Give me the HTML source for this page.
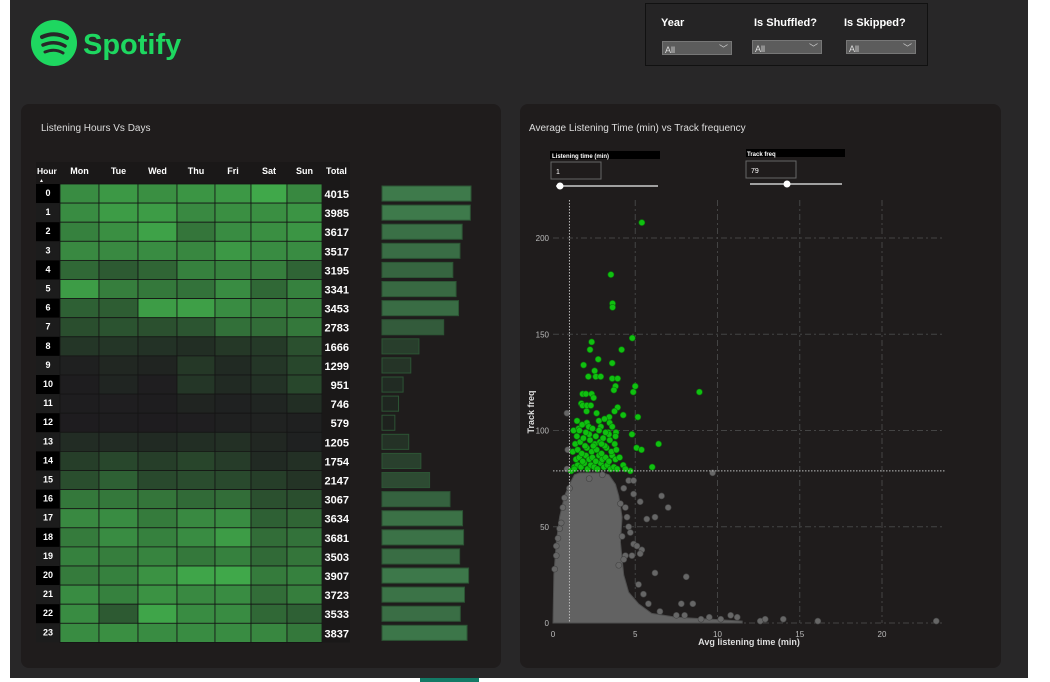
<!DOCTYPE html>
<html><head><meta charset="utf-8">
<style>
body{margin:0;width:1050px;height:682px;background:#fff;font-family:"Liberation Sans",sans-serif;overflow:hidden;position:relative}
#page{position:absolute;left:10px;top:0;width:1018px;height:678px;background:#282728}
.panel{position:absolute;background:#1f1c1c;border-radius:8px}
.lbl{position:absolute;color:#fff;font-size:11px;font-weight:bold}
.dd{position:absolute;width:70px;height:14px;background:#5c5c5c;border:1px solid #777;color:#ddd;font-size:9px;line-height:16px;padding-left:2px;box-sizing:border-box}
.dd:after{content:"﹀";position:absolute;right:3px;top:-1px;font-size:9px;color:#ccc}
</style></head><body>
<div id="page">
  <svg style="position:absolute;left:21px;top:20px" width="160" height="48">
    <circle cx="23" cy="23" r="23" fill="#1ed760"/>
    <path d="M11 17 Q24 11 36 18" stroke="#282728" stroke-width="4" fill="none" stroke-linecap="round"/>
    <path d="M12 25 Q24 20 34 26" stroke="#282728" stroke-width="3.5" fill="none" stroke-linecap="round"/>
    <path d="M14 32 Q24 28 32 33" stroke="#282728" stroke-width="3" fill="none" stroke-linecap="round"/>
    <text x="52" y="34" fill="#1ed760" font-size="29" font-weight="bold" font-family="Liberation Sans">Spotify</text>
  </svg>
  <div style="position:absolute;left:635px;top:3px;width:281px;height:61px;border:1px solid #111;background:#252425">
    <div class="lbl" style="left:15px;top:13px">Year</div>
    <div class="dd" style="left:16px;top:37px">All</div>
    <div class="lbl" style="left:108px;top:13px">Is Shuffled?</div>
    <div class="dd" style="left:106px;top:36px">All</div>
    <div class="lbl" style="left:198px;top:13px">Is Skipped?</div>
    <div class="dd" style="left:200px;top:36px">All</div>
  </div>
  <div class="panel" style="left:11px;top:104px;width:480px;height:564px">
    <svg id="hm" width="480" height="564"></svg>
  </div>
  <div class="panel" style="left:510px;top:104px;width:481px;height:564px">
    <svg id="sc" width="481" height="564"></svg>
  </div>
</div>
<div style="position:absolute;left:420px;top:678px;width:59px;height:4px;background:#137a66"></div>
<script>
const NS="http://www.w3.org/2000/svg";
function mk(p,t,a){const e=document.createElementNS(NS,t);for(const k in a)e.setAttribute(k,a[k]);p.appendChild(e);return e;}
// ---- heatmap data ----
const days=["Mon","Tue","Wed","Thu","Fri","Sat","Sun"];
const hours=[0,1,2,3,4,5,6,7,8,9,10,11,12,13,14,15,16,17,18,19,20,21,22,23];
const totals=[4015,3985,3617,3517,3195,3341,3453,2783,1666,1299,951,746,579,1205,1754,2147,3067,3634,3681,3503,3907,3723,3533,3837];
const cells=[
[560,600,570,590,600,650,545],[560,610,610,550,570,570,585],[520,570,630,480,560,570,590],[550,550,560,540,600,560,560],
[430,380,420,520,520,510,415],[610,510,490,470,560,430,520],[400,390,610,620,560,510,510],[330,350,340,360,460,450,490],
[220,220,200,180,230,240,340],[90,140,120,230,160,220,300],[70,130,80,220,160,200,300],[60,80,70,120,100,130,180],
[50,60,50,80,90,110,90],[170,170,160,180,190,140,100],[260,300,260,290,250,160,190],[330,400,310,320,310,260,210],
[490,490,480,440,450,340,330],[550,560,500,550,560,400,420],[500,560,520,560,610,450,470],[520,510,530,490,520,440,480],
[500,520,580,640,650,500,520],[560,520,580,550,560,450,510],[560,380,640,560,560,430,400],[560,570,560,560,560,540,490]];
const hm=document.getElementById("hm");
function t(p,x,y,s,o){const e=mk(p,"text",Object.assign({x:x,y:y,fill:"#fff","font-size":9,"font-weight":"bold","font-family":"Liberation Sans"},o||{}));e.textContent=s;return e;}
const tt=t(hm,20,27,"Listening Hours Vs Days",{"font-size":10,"font-weight":"normal",fill:"#ddd"});


const colX=[39,78,117,156,194,230,266,301];
const rowY0=80, rowH=19.1;
mk(hm,"rect",{x:15,y:58,width:314,height:22,fill:"#1a1818"});
t(hm,16,70,"Hour",{"font-size":8.5});
t(hm,18,78,"▲",{"font-size":5});
days.forEach((d,i)=>{const e=t(hm,(colX[i]+colX[i+1])/2,70,d,{"text-anchor":"middle"});

});
t(hm,305,70,"Total");
function col(v){const f=Math.max(0,Math.min(1,(v-50)/600));const a=[30,28,31],b=[64,168,74];
const g=Math.pow(f,1.35);
return "rgb("+a.map((c,i)=>Math.round(c+(b[i]-c)*g)).join(",")+")";}
const maxT=4015, barX=361, barW=89;
hours.forEach((h,r)=>{
  const y=rowY0+r*rowH;
  mk(hm,"rect",{x:15,y:y,width:24,height:rowH,fill:r%2?"#1c1c1c":"#000"});
  t(hm,27,y+12,String(h),{"text-anchor":"middle"});
  cells[r].forEach((v,c)=>{
    const e=mk(hm,"rect",{x:colX[c],y:y,width:colX[c+1]-colX[c],height:rowH,fill:col(v),stroke:"#141414","stroke-width":0.8});
    
    
  });
  mk(hm,"rect",{x:301,y:y,width:28,height:rowH,fill:"#1a1818"});
  t(hm,328,y+14,String(totals[r]),{"text-anchor":"end","font-size":11});
  const w=totals[r]/maxT*barW;
  const f=Math.max(0,(totals[r]-600)/3400);
  const b=mk(hm,"rect",{x:barX,y:y+2,width:w,height:rowH-4,fill:"rgb("+Math.round(30+32*f)+","+Math.round(34+88*f)+","+Math.round(30+45*f)+")",stroke:"#2c5434","stroke-width":1});
  
  
});
// ---- scatter data ----
const greenX=[5.4,3.52,3.62,3.62,4.82,2.35,2.25,4.17,2.75,1.86,3.6,2.53,2.15,2.6,2.9,3.6,3.93,5.0,3.8,3.7,4.88,8.9,1.8,2.0,2.35,2.47,1.72,1.8,2.06,2.3,3.93,3.74,2.04,2.65,4.27,5.16,3.42,1.46,2.06,2.79,3.13,3.44,1.25,1.56,1.77,2.17,2.91,4.8,3.83,3.36,6.42,5.08,5.38,6.03,4.7,4.27,
1.3,1.5,1.7,1.9,2.1,2.3,2.5,2.7,2.9,3.1,3.3,3.5,3.7,3.9,1.4,1.6,1.8,2.0,2.2,2.4,2.6,2.8,3.0,3.2,3.4,3.6,3.8,1.2,1.5,1.75,2.05,2.35,2.65,2.95,3.25,3.55,3.85,4.05,1.35,1.65,1.95,2.25,2.55,2.85,3.15,3.45,3.75,1.45,1.85,2.2,2.6,3.05,3.4,3.8,1.6,2.0,2.4,2.8,3.2,3.6,1.1,1.3,4.4,2.45,2.95];
const greenY=[208,181,166,164,148,146,142,142,137,134,135,131,128,128,128,127,127,123,123,121,120,120,119,119,119,117,114,113,113,113,112,110,110,109,108,107,107,105,104,105,106,104,100,101,103,102,102,98,99,99,93,91,90,81,79,82,
81,82,81,83,80,82,81,80,83,81,82,80,81,80,85,86,84,87,85,86,84,87,85,86,84,87,85,89,90,88,91,89,90,88,91,89,90,86,93,94,92,95,93,94,92,95,93,97,96,98,97,96,98,97,100,99,101,100,99,102,79,80,80,92,93];
const grayX=[0.85,0.9,0.85,0.4,0.7,1.0,0.6,0.2,4.6,4.9,4.9,5.3,6.6,7.0,5.7,6.2,4.5,4.7,4.9,5.1,5.4,4.4,4.3,4.8,5.3,6.2,8.1,7.8,8.5,5.2,5.5,5.8,6.5,7.5,8.0,9.0,9.5,10.2,10.8,11.2,12.6,12.9,14.0,16.1,23.3,9.7,2.2,3.0,4.4,4.3,4.6,0.1,0.3,0.5,0.2,4.1,4.2,4.0];
const grayY=[109,90,80,49,65,70,60,40,74,74,67,63,66,60,54,55,55,47,41,40,38,35,33,35,36,26,24,10,10,20,15,10,6,4,4,2,3,2,4,3,1,2,2,1,1,78,75,77,60,70,50,28,44,52,35,62,45,30];
const cloudX=[0,0.05,0.2,0.4,0.7,1.0,1.3,1.6,2.0,2.5,3.0,3.4,3.8,4.0,4.2,4.1,4.3,4.6,5.2,6.0,7.5,9.5,11.5,11.5,0];
const cloudY=[0,25,42,55,66,72,77,78,78,78,78,77,72,66,55,42,25,16,10,5,3,2,1,0,0];
const sc=document.getElementById("sc");
const X=v=>33+v*16.45, Y=v=>519-v*1.925;
const xt=[0,5,10,15,20], yt=[0,50,100,150,200];
xt.forEach(v=>{if(v>0)mk(sc,"line",{x1:X(v),x2:X(v),y1:96,y2:519,stroke:"#444","stroke-dasharray":"6 3 2 3"});
 t(sc,X(v),533,String(v),{"text-anchor":"middle","font-size":8,fill:"#bbb","font-weight":"normal"});});
yt.forEach(v=>{mk(sc,"line",{x1:33,x2:425,y1:Y(v),y2:Y(v),stroke:"#444","stroke-dasharray":"6 3 2 3"});
 t(sc,29,Y(v)+3,String(v),{"text-anchor":"end","font-size":8,fill:"#bbb","font-weight":"normal"});});
const cl=mk(sc,"polygon",{points:cloudX.map((x,i)=>X(x)+","+Y(cloudY[i])).join(" "),fill:"#626262",stroke:"#4e4e4e"});


grayX.forEach((x,i)=>{const c=mk(sc,"circle",{cx:X(x),cy:Y(grayY[i]),r:3,fill:"#666",stroke:"#444","stroke-width":0.6});

});
greenX.forEach((x,i)=>{const c=mk(sc,"circle",{cx:X(x),cy:Y(greenY[i]),r:3,fill:"#10c010",stroke:"#0a7a0a","stroke-width":0.6});

});
mk(sc,"line",{x1:X(1),x2:X(1),y1:96,y2:519,stroke:"#bbb","stroke-dasharray":"1.5 1.5"});
mk(sc,"line",{x1:33,x2:425,y1:Y(79),y2:Y(79),stroke:"#bbb","stroke-dasharray":"1.5 1.5"});
t(sc,9,27,"Average Listening Time (min) vs Track frequency",{"font-size":10,"font-weight":"normal",fill:"#ddd"});
t(sc,229,541,"Avg listening time (min)",{"text-anchor":"middle","font-size":9,fill:"#ddd"});
t(sc,14,308,"Track freq",{"text-anchor":"middle","font-size":9,fill:"#ddd",transform:"rotate(-90 14 308)"});
// slicers
mk(sc,"rect",{x:30,y:47,width:110,height:8,fill:"#000"});
t(sc,32,54,"Listening time (min)",{"font-size":6});
mk(sc,"rect",{x:31,y:58,width:50,height:17,fill:"none",stroke:"#666"});
t(sc,36,70,"1",{"font-size":7,"font-weight":"normal"});
mk(sc,"line",{x1:36,x2:138,y1:82,y2:82,stroke:"#ccc","stroke-width":1.5});
const s1=mk(sc,"circle",{cx:40,cy:82,r:3.5,fill:"#fff"});


mk(sc,"rect",{x:226,y:45,width:99,height:8,fill:"#000"});
t(sc,227,52,"Track freq",{"font-size":6});
mk(sc,"rect",{x:226,y:57,width:50,height:17,fill:"none",stroke:"#666"});
t(sc,231,69,"79",{"font-size":7,"font-weight":"normal"});
mk(sc,"line",{x1:230,x2:322,y1:80,y2:80,stroke:"#ccc","stroke-width":1.5});
const s2=mk(sc,"circle",{cx:267,cy:80,r:3.5,fill:"#fff"});


</script>
</body></html>
